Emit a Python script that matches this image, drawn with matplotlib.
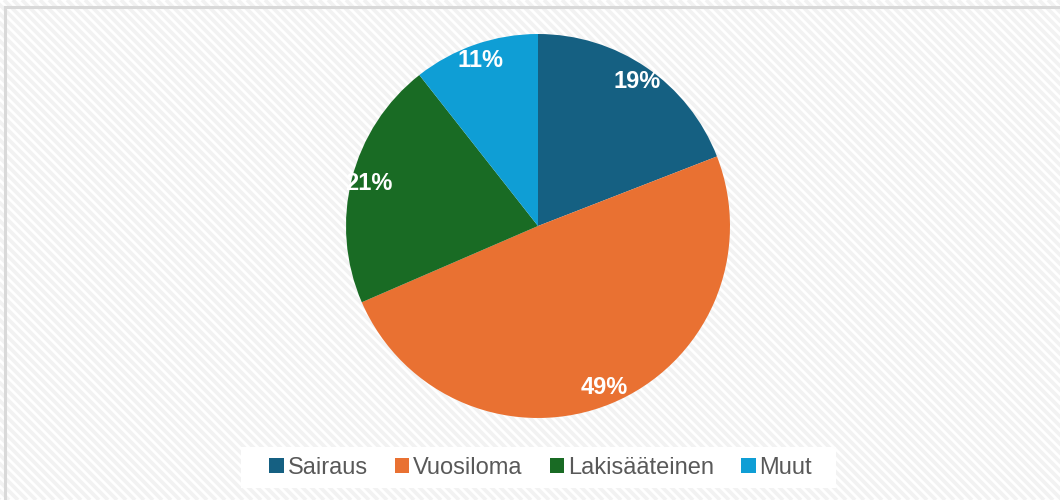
import matplotlib
matplotlib.use("Agg")
import matplotlib.pyplot as plt
from matplotlib.patches import Rectangle

categories = ["Sairaus", "Vuosiloma", "Lakisääteinen", "Muut"]
values = [19.1, 49.4, 20.9, 10.6]
labels = ["19%", "49%", "21%", "11%"]
colors = ["#156082", "#E97132", "#196B24", "#0F9ED5"]

plt.rcParams['font.family'] = ['Liberation Sans', 'DejaVu Sans']

W, H = 1060, 500
fig = plt.figure(figsize=(W / 100, H / 100), dpi=100)
fig.patch.set_facecolor('white')

# striped background (pixel coordinates, y downwards)
bgax = fig.add_axes([0, 0, 1, 1], zorder=-10)
bgax.set_xlim(0, W)
bgax.set_ylim(H, 0)
bgax.axis('off')
period = 9
x0 = -H
while x0 < W:
    bgax.plot([x0, x0 + H], [0, H], color='#f2f2f2', lw=2.6, solid_capstyle='butt')
    x0 += period
# border lines (top and left)
bgax.plot([5, 5], [H, 7], color='#d9d9d9', lw=2.2)
bgax.plot([5, W], [7, 7], color='#d9d9d9', lw=2.2)
# legend box
bx0, bx1, by0, by1 = 241, 836, 447, 488
bgax.add_patch(Rectangle((bx0, by0), bx1 - bx0, by1 - by0, facecolor='white',
                         edgecolor='none', zorder=5))

cx, cy, r = 538, 226, 192
ax = fig.add_axes([(cx - r) / W, (H - cy - r) / H, 2 * r / W, 2 * r / H])
ax.set_facecolor('none')
wedges, texts = ax.pie(values, colors=colors, startangle=90, counterclock=False,
                       labels=labels, labeldistance=0.91, radius=1,
                       wedgeprops=dict(linewidth=0),
                       textprops=dict(color='white', fontsize=17, fontweight='bold'))
for t in texts:
    t.set_ha('center')
    t.set_va('center')
ax.set_xlim(-1, 1)
ax.set_ylim(-1, 1)
ax.set_aspect('equal')
ax.axis('off')

handles = [Rectangle((0, 0), 1, 1, facecolor=c, edgecolor='none') for c in colors]
leg = fig.legend(handles, categories, loc='center', ncol=4,
                 bbox_to_anchor=(((bx0 + bx1) / 2 + 2) / W, 1 - (by0 + by1) / 2 / H),
                 frameon=False, fontsize=17, handlelength=0.62, handleheight=0.62,
                 handletextpad=0.15, columnspacing=1.15, labelcolor='#595959')
leg.set_zorder(6)

fig.savefig("out.png", dpi=100)
